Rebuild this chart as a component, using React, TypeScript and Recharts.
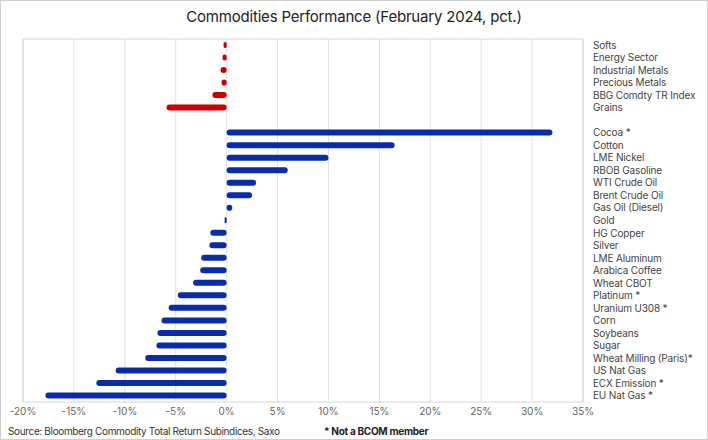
import React from 'react';
import { BarChart, Bar, XAxis, YAxis, CartesianGrid, Cell, ReferenceArea } from 'recharts';

// sector / index rows (top, red) then single commodities (blue)
const sectorNames = ['Softs', 'Energy Sector', 'Industrial Metals', 'Precious Metals', 'BBG Comdty TR Index', 'Grains'];
const sectorValues = [-0.3, -0.4, -0.6, -0.5, -1.4, -5.9];

const commodityNames = [
  'Cocoa *', 'Cotton', 'LME Nickel', 'RBOB Gasoline', 'WTI Crude Oil', 'Brent Crude Oil', 'Gas Oil (Diesel)',
  'Gold', 'HG Copper', 'Silver', 'LME Aluminum', 'Arabica Coffee', 'Wheat CBOT', 'Platinum *',
  'Uranium U308 *', 'Corn', 'Soybeans', 'Sugar', 'Wheat Milling (Paris)*', 'US Nat Gas', 'ECX Emission *', 'EU Nat Gas *',
];
const commodityValues = [
  32.0, 16.5, 10.0, 6.0, 2.9, 2.5, 0.55,
  -0.2, -1.6, -1.7, -2.5, -2.6, -3.3, -4.8,
  -5.7, -6.4, -6.8, -6.9, -8.0, -10.9, -12.8, -17.8,
];

const xTicks = [-20, -15, -10, -5, 0, 5, 10, 15, 20, 25, 30, 35];

const RED = '#cc0000';
const BLUE = '#0b2ca8';

const data = [
  ...sectorNames.map((name, i) => ({ name, value: sectorValues[i], sector: true })),
  { name: ' ', value: null, sector: false },
  ...commodityNames.map((name, i) => ({ name, value: commodityValues[i], sector: false })),
];

// plain text tick so long names don't wrap
const NameTick = (props: any) => {
  const { x, y, payload } = props;
  return (
    <text x={x} y={y} dy={3.5} fontSize={10} fill="#444" fontFamily="Inter, sans-serif" letterSpacing={-0.15}>
      {payload.value}
    </text>
  );
};

export default function App() {
  return (
    <div
      style={{
        position: 'absolute',
        top: 0,
        left: 0,
        width: 708,
        height: 440,
        boxSizing: 'border-box',
        border: '1px solid #cfcfcf',
        background: '#fff',
        fontFamily: 'Inter, sans-serif',
      }}
    >
      <div
        style={{
          position: 'absolute',
          top: 6,
          left: 0,
          width: 706,
          textAlign: 'center',
          fontSize: 15,
          color: '#222',
          letterSpacing: -0.2,
        }}
      >
        Commodities Performance (February 2024, pct.)
      </div>
      <div style={{ position: 'absolute', top: -1, left: -1 }}>
        <BarChart
          width={708}
          height={440}
          data={data}
          layout="vertical"
          margin={{ top: 39, right: 0, bottom: 18, left: 23 }}
          barSize={6}
        >
          <CartesianGrid horizontal={false} stroke="#e2e2e2" />
          <ReferenceArea x1={-20} x2={35} fill="none" stroke="#d6d6d6" ifOverflow="visible" />
          <XAxis
            type="number"
            domain={[-20, 35]}
            ticks={xTicks}
            tickFormatter={(v) => `${v}%`}
            axisLine={false}
            tickLine={false}
            tickSize={0}
            tickMargin={6}
            height={20}
            tick={{ fontSize: 10, fill: '#666' }}
          />
          <YAxis
            type="category"
            dataKey="name"
            orientation="right"
            width={125}
            axisLine={false}
            tickLine={false}
            tickSize={0}
            tickMargin={10}
            interval={0}
            tick={<NameTick />}
          />
          <Bar dataKey="value" radius={3} isAnimationActive={false}>
            {data.map((d, i) => (
              <Cell key={i} fill={d.sector ? RED : BLUE} />
            ))}
          </Bar>
        </BarChart>
      </div>
      <div style={{ position: 'absolute', left: 7, top: 424, fontSize: 10, color: '#333', letterSpacing: -0.35 }}>
        Source: Bloomberg Commodity Total Return Subindices, Saxo
      </div>
      <div style={{ position: 'absolute', left: 323, top: 424, fontSize: 10, color: '#222', fontWeight: 700, letterSpacing: -0.3 }}>
        * Not a BCOM member
      </div>
    </div>
  );
}
